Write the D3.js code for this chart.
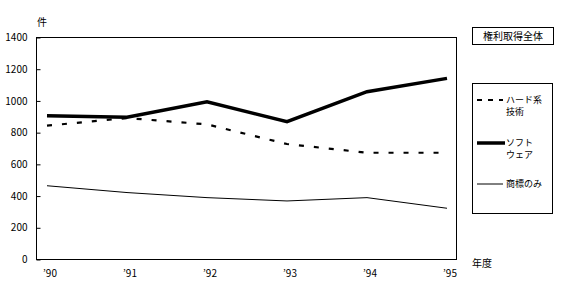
<!DOCTYPE html>
<html><head><meta charset="utf-8">
<script src="https://cdn.jsdelivr.net/npm/d3@7"></script>
<style>body{margin:0;background:#fff}svg{display:block}text{font-family:"Noto Sans CJK JP","DejaVu Sans",sans-serif;fill:#000}</style>
</head><body><svg id="c" width="568" height="308"></svg>
<script>
const years = [1990, 1991, 1992, 1993, 1994, 1995];
const yearLabels = ["’90", "’91", "’92", "’93", "’94", "’95"];
const hardware = [841, 889, 849, 725, 670, 670];
const software = [904, 894, 992, 866, 1055, 1139];
const trademark = [462, 419, 387, 366, 387, 320];
const yTicks = [0, 200, 400, 600, 800, 1000, 1200, 1400];
const seriesNames = ["ハード系\n技術", "ソフト\nウェア", "商標のみ"];
const titleText = "権利取得全体";
const unitText = "件";
const xUnitText = "年度";

const svg = d3.select("#c");
const L = 36, R = 456, T = 37, B = 259;
const x = d3.scaleLinear().domain([1990, 1995]).range([47, 447]);
const y = d3.scaleLinear().domain([0, 1400]).range([B, T]);

// frame
svg.append("rect").attr("x", L + 0.5).attr("y", T + 0.5).attr("width", R - L).attr("height", B - T)
  .attr("fill", "none").attr("stroke", "#000").attr("stroke-width", 1);

// y axis
const ya = svg.append("g").attr("transform", `translate(${L + 0.5},0.5)`)
  .call(d3.axisLeft(y).tickValues(yTicks).tickSize(-4).tickPadding(8).tickFormat(d3.format("d")));
ya.select(".domain").remove();
ya.selectAll("text").style("font-size", "10px").attr("font-family", "DejaVu Sans").attr("dx", "-1");
ya.selectAll("line").attr("stroke", "#000");

// x labels
svg.append("g").selectAll("text").data(years).join("text")
  .attr("x", d => x(d) + 3).attr("y", 277).attr("text-anchor", "middle")
  .style("font-size", "10px").text((d, i) => yearLabels[i]);

svg.append("text").attr("x", 42).attr("y", 26).attr("text-anchor", "middle").style("font-size", "10px").text(unitText);
svg.append("text").attr("x", 472).attr("y", 267).style("font-size", "10px").text(xUnitText);

const line = d3.line().x((d, i) => x(years[i])).y(d => y(d));
const styles = [
  {data: hardware, w: 2.2, dash: "5,10"},
  {data: software, w: 3.5, dash: null},
  {data: trademark, w: 1, dash: null}
];
styles.forEach(s => {
  svg.append("path").datum(s.data).attr("d", line).attr("fill", "none")
    .attr("stroke", "#000").attr("stroke-width", s.w).attr("stroke-dasharray", s.dash)
    .attr("stroke-linejoin", "miter");
});

// title box
svg.append("rect").attr("x", 472.5).attr("y", 27.5).attr("width", 81).attr("height", 17)
  .attr("fill", "#fff").attr("stroke", "#000");
svg.append("text").attr("x", 513).attr("y", 40).attr("text-anchor", "middle").style("font-size", "10px").text(titleText);

// legend
svg.append("rect").attr("x", 472.5).attr("y", 83.5).attr("width", 80).attr("height", 130)
  .attr("fill", "#fff").attr("stroke", "#000");
const legY = [100, 143, 184];
const legX2 = [503, 505, 503];
styles.forEach((s, i) => {
  svg.append("line").attr("x1", 477).attr("x2", legX2[i]).attr("y1", legY[i]).attr("y2", legY[i])
    .attr("stroke", "#000").attr("stroke-width", s.w).attr("stroke-dasharray", s.dash ? "5,6" : null);
  const lines = seriesNames[i].split("\n");
  lines.forEach((ln, j) => {
    svg.append("text").attr("x", 506).attr("y", legY[i] + 3 + j * 12)
      .style("font-size", "9px").text(ln);
  });
});
</script></body></html>
